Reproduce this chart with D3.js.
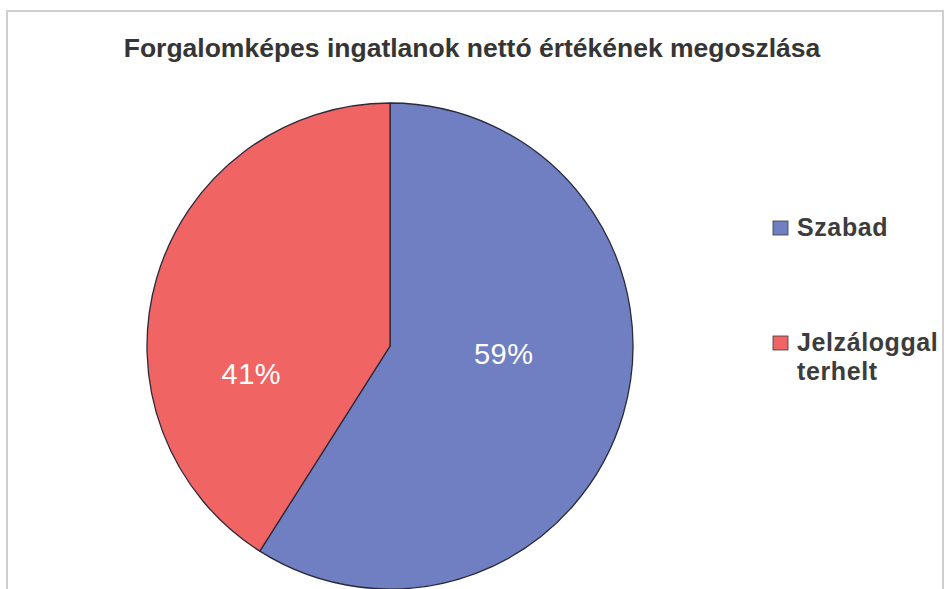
<!DOCTYPE html>
<html>
<head>
<meta charset="utf-8">
<script src="https://cdn.jsdelivr.net/npm/d3@7"></script>
<style>
  html, body { margin: 0; padding: 0; background: #fff; }
  svg { display: block; font-family: "Liberation Sans", Arial, sans-serif; }
</style>
</head>
<body>
<svg id="chart" width="944" height="589"></svg>
<script>
// Net value split of marketable real estate
const title = "Forgalomképes ingatlanok nettó értékének megoszlása";
const categories = ["Szabad", "Jelzáloggal terhelt"];
const legendLines = [["Szabad"], ["Jelzáloggal", "terhelt"]];
const values = [59, 41];
const colors = ["#6f7fc2", "#f06464"];

const width = 944, height = 589;
const svg = d3.select("#chart");

// outer frame
svg.append("rect")
  .attr("x", 7).attr("y", 11)
  .attr("width", width - 8).attr("height", height + 20)
  .attr("fill", "#fff")
  .attr("stroke", "#cfcfcf").attr("stroke-width", 2);

// title
svg.append("text")
  .attr("x", 472).attr("y", 57)
  .attr("text-anchor", "middle")
  .attr("font-size", 26.5).attr("font-weight", "bold")
  .attr("fill", "#353535")
  .text(title);

// pie
const cx = 390, cy = 346, radius = 243;
const pie = d3.pie().sort(null).value(d => d)
  .startAngle(0).endAngle(2 * Math.PI);
const arcs = pie(values);
const arc = d3.arc().innerRadius(0).outerRadius(radius);
const labelArc = d3.arc().innerRadius(radius * 0.5).outerRadius(radius * 0.5);

const g = svg.append("g").attr("transform", `translate(${cx},${cy})`);

g.selectAll("path.slice")
  .data(arcs)
  .join("path")
  .attr("class", "slice")
  .attr("d", arc)
  .attr("fill", (d, i) => colors[i])
  .attr("stroke", "#2a2a3a")
  .attr("stroke-width", 1.3);

// percentage labels, moved from the slice centroid toward the pie's horizontal midline
const labelNudge = [[-3, -26], [-22, 62]];
g.selectAll("text.pct")
  .data(arcs)
  .join("text")
  .attr("class", "pct")
  .attr("transform", (d, i) => {
    const [x, y] = labelArc.centroid(d);
    return `translate(${x + labelNudge[i][0]},${y + labelNudge[i][1]})`;
  })
  .attr("text-anchor", "middle")
  .attr("dy", "0.35em")
  .attr("font-size", 29)
  .attr("letter-spacing", 0.5)
  .attr("fill", "#ffffff")
  .text(d => d3.format(".0%")(d.data / 100));

// legend
const legendX = 773;
const legendY = [221, 336];
const legend = svg.append("g");
categories.forEach((c, i) => {
  legend.append("rect")
    .attr("x", legendX).attr("y", legendY[i])
    .attr("width", 15).attr("height", 14)
    .attr("fill", colors[i])
    .attr("stroke", "#3a3a3a").attr("stroke-width", 0.8);
  const t = legend.append("text")
    .attr("x", legendX + 24).attr("y", legendY[i] + 14.5)
    .attr("font-size", 25).attr("font-weight", "bold")
    .attr("letter-spacing", 0.6)
    .attr("fill", "#3c3c3c");
  legendLines[i].forEach((line, k) => {
    t.append("tspan")
      .attr("x", legendX + 24)
      .attr("dy", k === 0 ? 0 : 29)
      .text(line);
  });
});
</script>
</body>
</html>
